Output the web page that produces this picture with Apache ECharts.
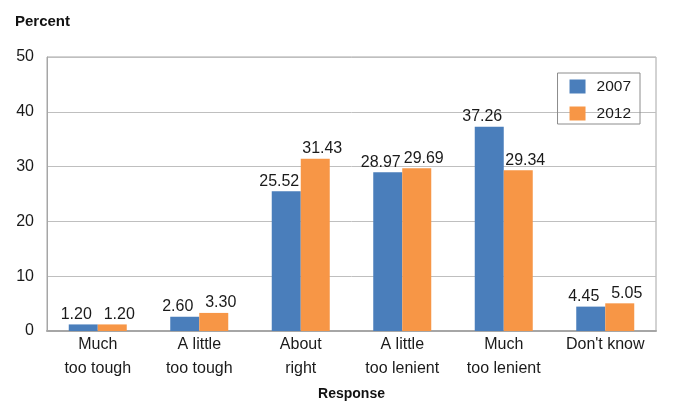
<!DOCTYPE html>
<html><head><meta charset="utf-8">
<script src="https://cdn.jsdelivr.net/npm/echarts@6/dist/echarts.min.js"></script>
<style>html,body{margin:0;padding:0;background:#fff}#c{width:674px;height:412px}</style>
</head><body><div id="c"></div>
<script>
const categories = ['Much\ntoo tough', 'A little\ntoo tough', 'About\nright', 'A little\ntoo lenient', 'Much\ntoo lenient', "Don't know"];
const values2007 = [1.20, 2.60, 25.52, 28.97, 37.26, 4.45];
const values2012 = [1.20, 3.30, 31.43, 29.69, 29.34, 5.05];
const yTicks = [0, 10, 20, 30, 40, 50];

const chart = echarts.init(document.getElementById('c'), null, {renderer: 'canvas'});
const font = '"Liberation Sans", Arial, sans-serif';
const lbl = (dx) => ({show: true, position: 'top', distance: 2, offset: [dx, 0], color: '#1a1a1a', fontSize: 16,
  fontFamily: font, formatter: p => p.value.toFixed(2)});
chart.setOption({
  animation: false,
  textStyle: {fontFamily: font},
  grid: {left: 47, right: 18, top: 57, bottom: 81, outerBoundsMode: 'none', show: true,
    borderColor: '#a6a6a6', borderWidth: 1, containLabel: false},
  title: [
    {text: 'Percent', left: 15, top: 14, padding: 0, textStyle: {fontSize: 15, fontWeight: 'bold', color: '#111', fontFamily: font}},
  ],
  legend: {
    data: ['2007', '2012'], orient: 'vertical', right: 34, top: 73,
    itemWidth: 16, itemHeight: 14, itemGap: 10, padding: [5, 9, 2, 12],
    borderColor: '#8c8c8c', borderWidth: 1, icon: 'rect',
    textStyle: {fontSize: 15.5, color: '#1a1a1a', fontFamily: font, padding: [0, 0, 0, 6], lineHeight: 17}
  },
  xAxis: {
    type: 'category', data: categories, name: 'Response', nameLocation: 'middle', nameGap: 56,
    nameTextStyle: {fontSize: 14, fontWeight: 'bold', color: '#111', fontFamily: font},
    axisLine: {lineStyle: {color: '#a6a6a6', width: 2}}, axisTick: {show: false},
    axisLabel: {fontSize: 16, color: '#1a1a1a', lineHeight: 24, margin: 2, interval: 0, fontFamily: font}
  },
  yAxis: {
    type: 'value', min: 0, max: 50, interval: 10,
    axisLine: {show: true, lineStyle: {color: '#a6a6a6'}}, axisTick: {show: false},
    splitLine: {lineStyle: {color: '#bfbfbf'}},
    axisLabel: {fontSize: 16, color: '#1a1a1a', margin: 13, fontFamily: font,
      formatter: v => yTicks.includes(v) ? String(v) : ''}
  },
  series: [
    {name: '2007', type: 'bar', data: values2007, barWidth: 29, barGap: '0%', itemStyle: {color: '#4a7ebb'}, label: lbl(-7)},
    {name: '2012', type: 'bar', data: values2012, barWidth: 29, itemStyle: {color: '#f79646'}, label: lbl(7)}
  ]
});
</script></body></html>
